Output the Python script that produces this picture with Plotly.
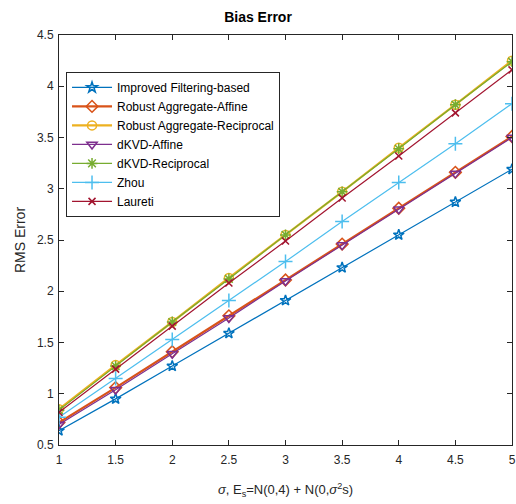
import plotly.graph_objects as go

sigma = [1, 1.5, 2, 2.5, 3, 3.5, 4, 4.5, 5]
improved_filtering = [0.64, 0.95, 1.27, 1.59, 1.91, 2.23, 2.55, 2.87, 3.19]
robust_affine = [0.72, 1.06, 1.41, 1.76, 2.11, 2.46, 2.81, 3.16, 3.51]
robust_reciprocal = [0.85, 1.28, 1.70, 2.13, 2.55, 2.97, 3.40, 3.82, 4.25]
dkvd_affine = [0.70, 1.04, 1.39, 1.74, 2.10, 2.45, 2.80, 3.15, 3.50]
dkvd_reciprocal = [0.84, 1.27, 1.70, 2.12, 2.55, 2.97, 3.39, 3.82, 4.24]
zhou = [0.77, 1.15, 1.53, 1.91, 2.29, 2.68, 3.06, 3.44, 3.83]
laureti = [0.82, 1.24, 1.66, 2.08, 2.49, 2.91, 3.32, 3.74, 4.16]

series = [
    ("Improved Filtering-based", improved_filtering, "#0072BD", "star-open", 1.2, 8),
    ("Robust Aggregate-Affine", robust_affine, "#D95319", "diamond-open", 2.2, 9),
    ("Robust Aggregate-Reciprocal", robust_reciprocal, "#EDB120", "circle-open", 2.2, 9),
    ("dKVD-Affine", dkvd_affine, "#7E2F8E", "triangle-down-open", 1.2, 9),
    ("dKVD-Reciprocal", dkvd_reciprocal, "#77AC30", "asterisk-open", 1.2, 9),
    ("Zhou", zhou, "#4DBEEE", "cross-thin-open", 1.2, 10),
    ("Laureti", laureti, "#A2142F", "x-thin-open", 1.2, 7),
]

fig = go.Figure()
for name, ys, color, sym, lw, ms in series:
    fig.add_trace(go.Scatter(
        x=sigma, y=ys, name=name, mode="lines+markers",
        line=dict(color=color, width=lw),
        marker=dict(symbol=sym, size=ms, color=color, line=dict(color=color, width=1.5)),
    ))

axis_common = dict(
    showline=True, linecolor="#262626", linewidth=1, mirror="ticks",
    ticks="inside", ticklen=5, tickcolor="#262626", showgrid=False, zeroline=False,
    tickfont=dict(family="Liberation Sans, Arial", size=12, color="#262626"),
)

fig.update_layout(
    width=516, height=504,
    paper_bgcolor="white", plot_bgcolor="white",
    margin=dict(l=59, r=4, t=35, b=59, autoexpand=False),
    title=dict(text="<b>Bias Error</b>", x=0.5, xanchor="center", y=0.966, yanchor="middle",
               font=dict(family="Liberation Sans, Arial", size=14, color="black")),
    xaxis=dict(range=[1, 5], tickvals=[1, 1.5, 2, 2.5, 3, 3.5, 4, 4.5, 5],
               ticktext=["1", "1.5", "2", "2.5", "3", "3.5", "4", "4.5", "5"],
               ticklabelstandoff=4, ticklabeloverflow="allow", automargin=False,
               title=dict(text="<i>σ</i>, E<sub>s</sub>=N(0,4) + N(0,<i>σ</i><sup>2</sup>s)",
                          font=dict(family="Liberation Sans, Arial", size=13, color="#262626"),
                          standoff=18),
               **axis_common),
    yaxis=dict(range=[0.5, 4.5], tickvals=[0.5, 1, 1.5, 2, 2.5, 3, 3.5, 4, 4.5],
               ticktext=["0.5", "1", "1.5", "2", "2.5", "3", "3.5", "4", "4.5"],
               ticklabelstandoff=2, automargin=False,
               title=dict(text="RMS Error",
                          font=dict(family="Liberation Sans, Arial", size=14, color="#262626"),
                          standoff=8),
               **axis_common),
    legend=dict(x=0.0155, y=0.91, xanchor="left", yanchor="top",
                bgcolor="white", bordercolor="#262626", borderwidth=1,
                font=dict(family="Liberation Sans, Arial", size=12, color="black"),
                tracegroupgap=0, itemwidth=40),
    showlegend=True,
)

fig.write_html(
    "out.html",
    config={"displayModeBar": False},
    post_script="document.body.style.margin='0';document.body.style.overflow='hidden';",
)
